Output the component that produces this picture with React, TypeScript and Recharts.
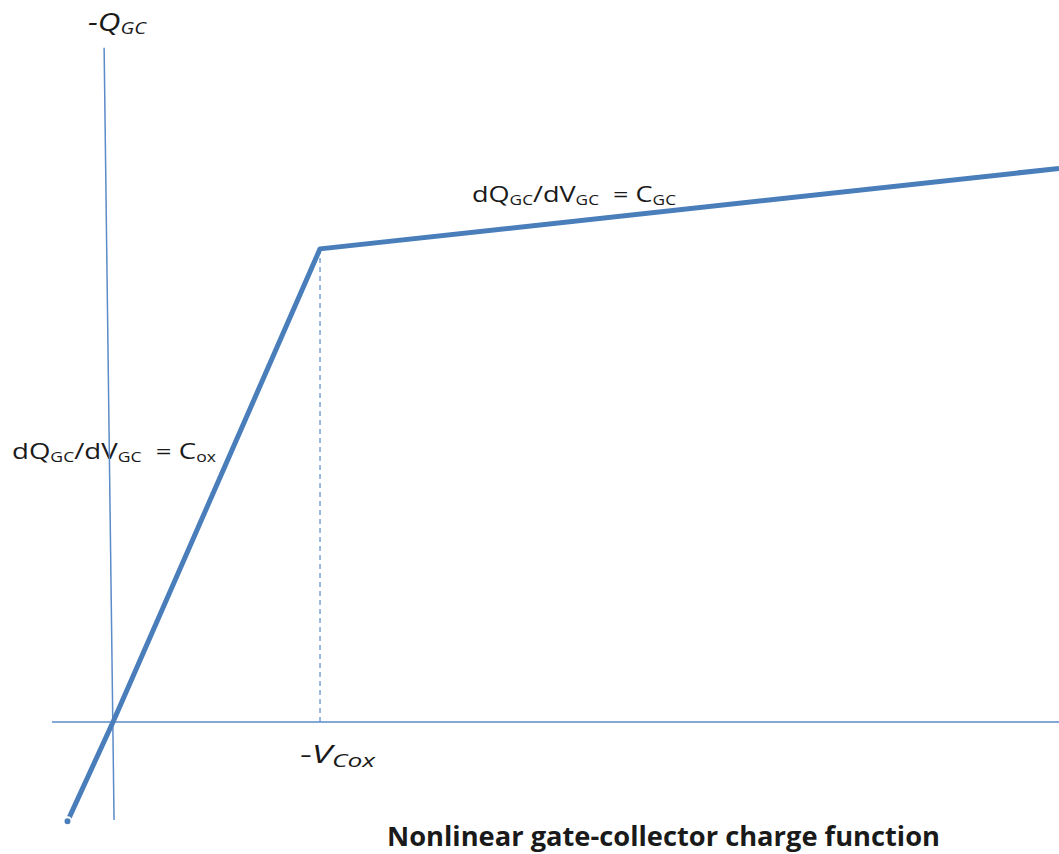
import React from "react";
import {
  ComposedChart,
  Line,
  XAxis,
  YAxis,
  ReferenceLine,
  Customized,
} from "recharts";

// gate-collector voltage (units of V_Cox) vs charge (units of Q at knee)
const voltage = [-0.22, 0, 1, 4.57];
const charge = [-0.21, 0, 1, 1.17];

// slightly tilted vertical axis drawn by hand in the original sketch
const qAxisV = [-0.043, 0.005];
const qAxisQ = [1.425, -0.207];

const xAxisStart = -0.295;
const xAxisEnd = 4.57;
const knee = 1;

const BLUE = "#4A7EBB";
const AXIS_BLUE = "#5B8BC9";
const FONT = "'Open Sans', sans-serif";
const NBSP = "\u00A0";

const curve = voltage.map((v, i) => ({ v, q: charge[i] }));
const qAxis = qAxisV.map((v, i) => ({ v, q: qAxisQ[i] }));

const Slope = ({ x, y, sub }: { x: number; y: number; sub: string }) => (
  <text x={x} y={y} fontSize={22} textLength={204} lengthAdjust="spacingAndGlyphs">
    dQ
    <tspan fontSize={14} dy={3}>GC</tspan>
    <tspan fontSize={22} dy={-3}>/dV</tspan>
    <tspan fontSize={14} dy={3}>GC</tspan>
    <tspan fontSize={22} dy={-3}>{`${NBSP}${NBSP}=${NBSP}C`}</tspan>
    <tspan fontSize={14} dy={3}>{sub}</tspan>
  </text>
);

const Annotations = () => (
  <g fontFamily={FONT} fill="#1a1a1a">
    <text x={88} y={31} fontSize={25} fontStyle="italic" textLength={58} lengthAdjust="spacingAndGlyphs">
      -Q
      <tspan fontSize={16} dy={3}>GC</tspan>
    </text>
    <Slope x={12} y={459} sub="ox" />
    <Slope x={472} y={202} sub="GC" />
    <text x={300} y={763} fontSize={25} textLength={75} lengthAdjust="spacingAndGlyphs">
      -<tspan fontStyle="italic">V</tspan>
      <tspan fontSize={18} dy={4} fontStyle="italic">Cox</tspan>
    </text>
    <text x={387} y={846} fontSize={26} fontWeight="bold" textLength={553} lengthAdjust="spacingAndGlyphs">
      Nonlinear gate-collector charge function
    </text>
  </g>
);

export default function App() {
  return (
    <div style={{ position: "absolute", left: 0, top: 0, background: "#fff" }}>
      <ComposedChart
        width={1059}
        height={854}
        margin={{ top: 0, right: 0, bottom: 0, left: 0 }}
      >
        <XAxis type="number" dataKey="v" domain={[-0.546, 4.57]} hide />
        <YAxis type="number" dataKey="q" domain={[-0.279, 1.526]} hide />
        <ReferenceLine
          segment={[
            { x: xAxisStart, y: 0 },
            { x: xAxisEnd, y: 0 },
          ]}
          stroke={AXIS_BLUE}
          strokeWidth={1.5}
          ifOverflow="visible"
        />
        <ReferenceLine
          segment={[
            { x: knee, y: 0 },
            { x: knee, y: knee },
          ]}
          stroke={AXIS_BLUE}
          strokeWidth={1.2}
          strokeDasharray="5 4"
          ifOverflow="visible"
        />
        <Line
          data={qAxis}
          dataKey="q"
          type="linear"
          stroke={AXIS_BLUE}
          strokeWidth={1.5}
          dot={false}
          isAnimationActive={false}
        />
        <Line
          data={curve}
          dataKey="q"
          type="linear"
          stroke={BLUE}
          strokeWidth={5}
          strokeLinejoin="round"
          dot={false}
          isAnimationActive={false}
        />
        <Customized component={Annotations} />
      </ComposedChart>
    </div>
  );
}
